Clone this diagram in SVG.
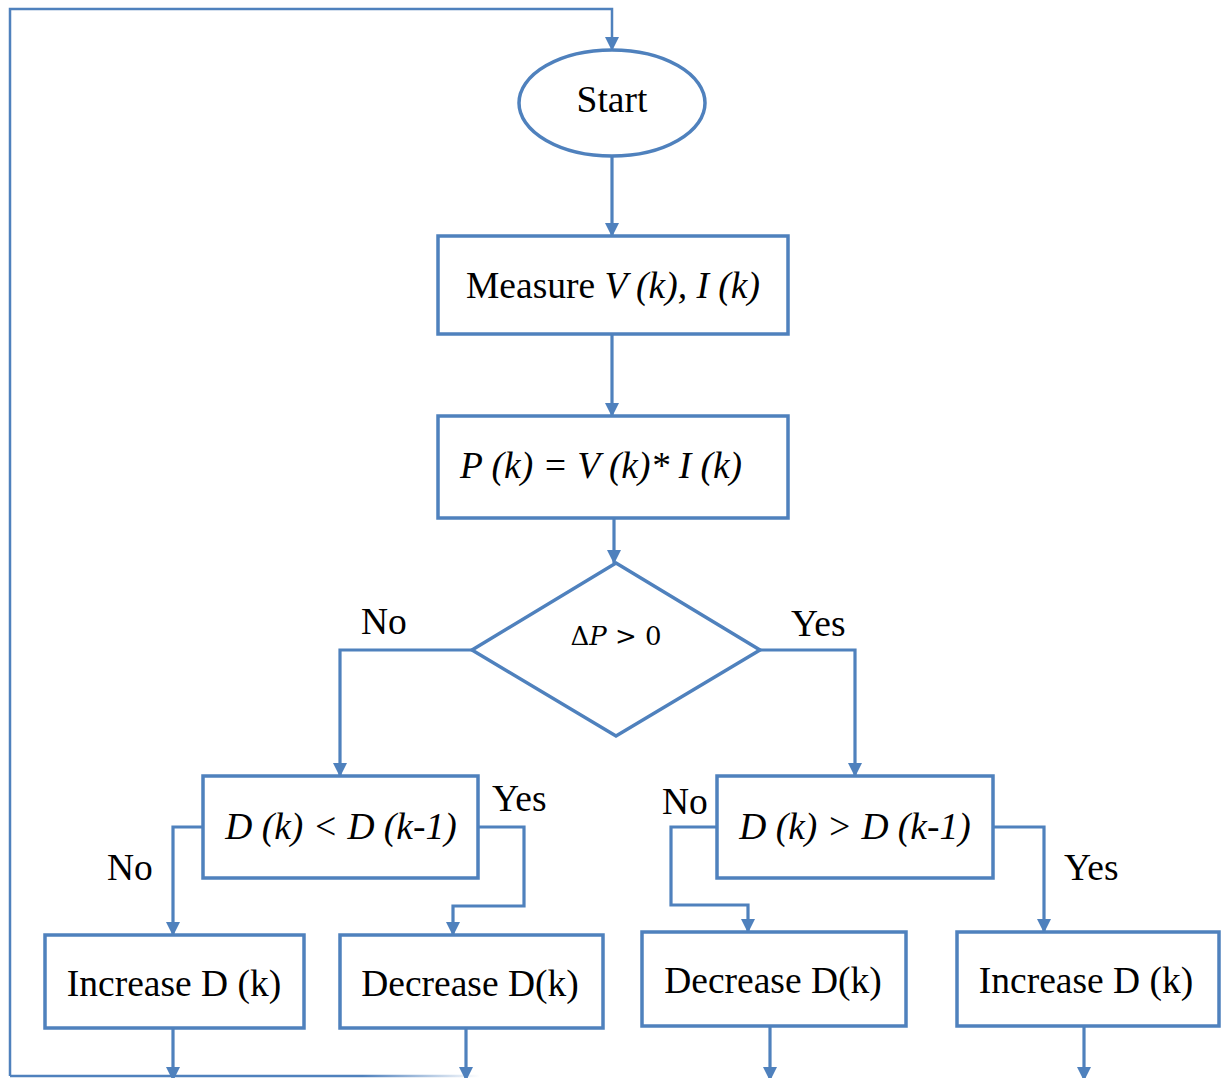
<svg xmlns="http://www.w3.org/2000/svg" width="1221" height="1078" viewBox="0 0 1221 1078">
<defs>
<marker id="ah" markerUnits="userSpaceOnUse" markerWidth="14" markerHeight="16" refX="13" refY="7" orient="auto">
<path d="M0,0 L14,7 L0,14 Z" fill="#4F81BD"/>
</marker>
<linearGradient id="fade" gradientUnits="userSpaceOnUse" x1="10" y1="0" x2="480" y2="0">
<stop offset="0" stop-color="#4F81BD"/>
<stop offset="0.75" stop-color="#4F81BD"/>
<stop offset="1" stop-color="#4F81BD" stop-opacity="0"/>
</linearGradient>
</defs>
<style>
.shape{fill:#fff;stroke:#4F81BD;stroke-width:3.5}
.conn{fill:none;stroke:#4F81BD;stroke-width:3.2}
.t{font-family:"Liberation Serif","Times New Roman",serif;font-size:37.5px;fill:#000}
.c{text-anchor:middle}
.i{font-style:italic}
</style>
<rect width="1221" height="1078" fill="#fff"/>
<g id="connectors">
<path class="conn" style="stroke-width:2.5" d="M10,1076 L10,9 L612,9 L612,50" marker-end="url(#ah)"/>
<path d="M10,1076 L480,1076" stroke="url(#fade)" stroke-width="2.5" fill="none"/>
<path class="conn" d="M612,156 L612,236" marker-end="url(#ah)"/>
<path class="conn" d="M612,334 L612,416" marker-end="url(#ah)"/>
<path class="conn" d="M614,518 L614,563" marker-end="url(#ah)"/>
<path class="conn" d="M472,650 L340,650 L340,776" marker-end="url(#ah)"/>
<path class="conn" d="M760,650 L855,650 L855,776" marker-end="url(#ah)"/>
<path class="conn" d="M203,827 L173,827 L173,935" marker-end="url(#ah)"/>
<path class="conn" d="M478,827 L524,827 L524,906 L453,906 L453,935" marker-end="url(#ah)"/>
<path class="conn" d="M717,827 L671,827 L671,905 L748,905 L748,932" marker-end="url(#ah)"/>
<path class="conn" d="M993,827 L1044,827 L1044,932" marker-end="url(#ah)"/>
<path class="conn" d="M173,1028 L173,1080" marker-end="url(#ah)"/>
<path class="conn" d="M466,1028 L466,1080" marker-end="url(#ah)"/>
<path class="conn" d="M770,1026 L770,1080" marker-end="url(#ah)"/>
<path class="conn" d="M1084,1026 L1084,1080" marker-end="url(#ah)"/>
<text class="t" x="361" y="634">No</text>
<text class="t" x="791" y="636">Yes</text>
<text class="t" x="107" y="880">No</text>
<text class="t" x="492" y="811">Yes</text>
<text class="t" x="662" y="814">No</text>
<text class="t" x="1064" y="880">Yes</text>
</g>
<g id="start">
<ellipse class="shape" cx="612" cy="103" rx="93" ry="53"/>
<text class="t c" x="612" y="112">Start</text>
</g>
<g id="measure">
<rect class="shape" x="438" y="236" width="350" height="98"/>
<text class="t c" x="613" y="298">Measure <tspan class="i">V (k), I (k)</tspan></text>
</g>
<g id="power">
<rect class="shape" x="438" y="416" width="350" height="102"/>
<text class="t i" x="460" y="478">P (k) = V (k)* I (k)</text>
</g>
<g id="decision">
<polygon class="shape" points="616,563 760,650 616,736 472,650"/>
<text x="616" y="645" text-anchor="middle" style="font-family:'DejaVu Serif','Liberation Serif',serif;font-size:26px">Δ<tspan font-style="italic">P</tspan> &gt; 0</text>
</g>
<g id="dless">
<rect class="shape" x="203" y="776" width="275" height="102"/>
<text class="t c i" x="341" y="839">D (k) &lt; D (k-1)</text>
</g>
<g id="dgreater">
<rect class="shape" x="717" y="776" width="276" height="102"/>
<text class="t c i" x="855" y="839">D (k) &gt; D (k-1)</text>
</g>
<g id="inc1">
<rect class="shape" x="45" y="935" width="259" height="93"/>
<text class="t c" x="174" y="996">Increase D (k)</text>
</g>
<g id="dec1">
<rect class="shape" x="340" y="935" width="263" height="93"/>
<text class="t c" x="470" y="996">Decrease D(k)</text>
</g>
<g id="dec2">
<rect class="shape" x="642" y="932" width="264" height="94"/>
<text class="t c" x="773" y="993">Decrease D(k)</text>
</g>
<g id="inc2">
<rect class="shape" x="957" y="932" width="262" height="94"/>
<text class="t c" x="1086" y="993">Increase D (k)</text>
</g>
</svg>
